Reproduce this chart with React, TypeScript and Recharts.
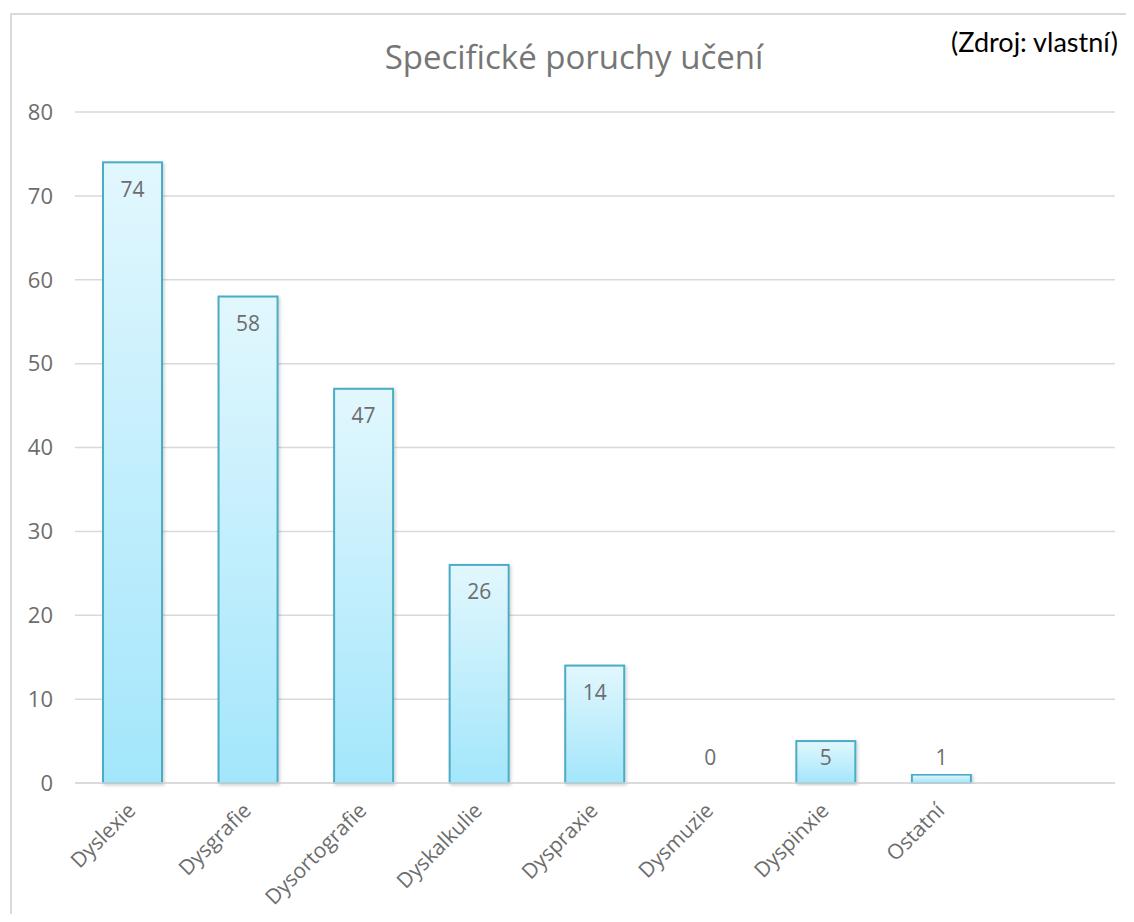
import React from "react";
import { BarChart, Bar, XAxis, YAxis, CartesianGrid, LabelList } from "recharts";

const categories = ["Dyslexie", "Dysgrafie", "Dysortografie", "Dyskalkulie", "Dyspraxie", "Dysmuzie", "Dyspinxie", "Ostatní", " "];
const values: (number | null)[] = [74, 58, 47, 26, 14, 0, 5, 1, null];
const yTicks = [0, 10, 20, 30, 40, 50, 60, 70, 80];
const title = "Specifické poruchy učení";
const source = "(Zdroj: vlastní)";

const data = categories.map((c, i) => ({ name: c, value: values[i] }));

const FONT = "'Open Sans', 'DejaVu Sans', sans-serif";
const LABEL_COLOR = "#6d6d6d";

const W = 1118;
const H = 906;

const XTick = (props: any) => {
  const { x, y, payload } = props;
  if (!payload || !payload.value || !String(payload.value).trim()) return null;
  const ax = x + 4;
  const ay = y + 29;
  return (
    <text
      x={ax}
      y={ay}
      textAnchor="end"
      transform={`rotate(-45 ${ax} ${ay})`}
      fill={LABEL_COLOR}
      fontSize={21}
      fontFamily={FONT}
    >
      {payload.value}
    </text>
  );
};

const BarLabel = (props: any) => {
  const { x, y, width, height, value } = props;
  if (value === null || value === undefined) return null;
  const base = y + height;
  const top = Math.min(y, base);
  const cy = Math.min(top + 27, base - 25);
  return (
    <text
      x={x + width / 2}
      y={cy}
      dy="0.35em"
      textAnchor="middle"
      fill={LABEL_COLOR}
      fontSize={21}
      fontFamily={FONT}
    >
      {value}
    </text>
  );
};

const BarShape = (props: any) => {
  const { x, y, width, height } = props;
  if (!height || height <= 0) return null;
  return (
    <rect
      x={x}
      y={y}
      width={width}
      height={height}
      fill="url(#barGrad)"
      stroke="#4bacc6"
      strokeWidth={2}
      filter="url(#barShadow)"
    />
  );
};

export default function App() {
  return (
    <div style={{ position: "relative", width: W, height: H, overflow: "hidden", background: "#fff" }}>
      <div
        style={{
          position: "absolute",
          left: 2,
          top: 5,
          width: 3000,
          height: 3000,
          border: "2px solid #dadada",
          boxSizing: "border-box",
        }}
      />
      <div style={{ position: "absolute", left: 0, top: 0 }}>
        <BarChart width={W} height={H} data={data} margin={{ top: 104, right: 11, bottom: 0, left: 0 }}>
          <defs>
            <linearGradient id="barGrad" x1="0" y1="0" x2="0" y2="1">
              <stop offset="0%" stopColor="#e2f7fe" />
              <stop offset="100%" stopColor="#a3e6fb" />
            </linearGradient>
            <filter id="barShadow" x="-20%" y="-5%" width="140%" height="110%">
              <feDropShadow dx="1.5" dy="1.5" stdDeviation="1.5" floodColor="#000" floodOpacity="0.18" />
            </filter>
          </defs>
          <CartesianGrid horizontal={true} vertical={false} stroke="#d9d9d9" strokeWidth={1.5} />
          <XAxis
            dataKey="name"
            type="category"
            height={131}
            interval={0}
            tickLine={false}
            tickSize={0}
            tickMargin={0}
            axisLine={{ stroke: "#d9d9d9", strokeWidth: 1.5 }}
            tick={<XTick />}
          />
          <YAxis
            type="number"
            domain={[0, 80]}
            ticks={yTicks}
            width={67}
            axisLine={false}
            tickLine={false}
            tickSize={0}
            tickMargin={22}
            tick={{ fill: LABEL_COLOR, fontSize: 22, fontFamily: FONT }}
          />
          <Bar dataKey="value" barSize={59} isAnimationActive={false} shape={<BarShape />}>
            <LabelList dataKey="value" content={<BarLabel />} />
          </Bar>
        </BarChart>
      </div>
      <svg width={W} height={H} style={{ position: "absolute", left: 0, top: 0, pointerEvents: "none" }}>
        <text x={566} y={61} textAnchor="middle" fill="#767676" fontSize={33} fontFamily={FONT}>
          {title}
        </text>
        <text x={1110} y={44} textAnchor="end" fill="#000" fontSize={27} fontFamily="Lato, 'Open Sans', sans-serif">
          {source}
        </text>
      </svg>
    </div>
  );
}
